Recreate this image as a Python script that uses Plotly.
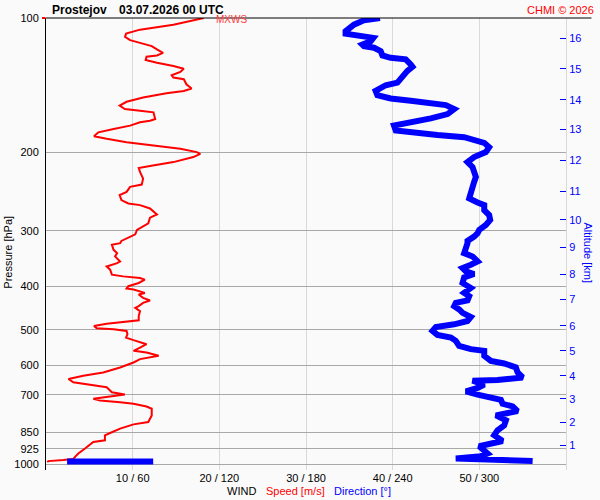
import math
import plotly.graph_objects as go

# wind speed profile (m/s) against pressure (hPa)
speed_p = [100, 103.5, 106.2, 108.4, 110.2, 112.1, 113.7, 115.6, 117.6, 119.7,
           121.3, 122.1, 124.2, 126.0, 128.1, 129.9, 132.1, 134.4, 136.0, 137.2,
           140.8, 143.9, 145.7, 147.4, 150.7, 154.1, 157.2, 160.0, 161.4, 162.7,
           168.4, 169.9, 171.3, 174.3, 177.3, 180.4, 184.1, 186.6, 189.8, 193.1,
           196.5, 199.8, 201.6, 205.0, 210.4, 214.7, 216.9, 221.4, 229.1, 236.3,
           239.1, 245.4, 249.5, 256.0, 260.5, 262.7, 267.3, 275.6, 280.3, 288.6,
           293.6, 298.6, 305.4, 311.7, 316.0, 319.8, 322.5, 330.9, 336.6, 342.4,
           351.3, 354.4, 357.3, 360.5, 366.6, 376.2, 379.5, 382.7, 386.0, 392.6,
           399.3, 404.1, 406.2, 409.7, 413.3, 416.7, 424.0, 429.8, 435.1, 442.5,
           446.3, 453.9, 465.7, 476.1, 479.5, 484.5, 490.3, 496.1, 498.7, 503.0,
           511.6, 520.6, 527.5, 534.1, 538.6, 547.9, 557.3, 562.2, 571.8, 581.6,
           591.8, 607.2, 623.0, 633.7, 644.5, 655.8, 663.5, 672.7, 690.2, 696.0,
           698.4, 714.0, 720.2, 726.4, 732.5, 742.7, 751.5, 777.9, 805.0, 814.6,
           832.8, 851.8, 861.9, 884.3, 891.9, 922.6, 934.1, 946.7, 963.2, 974.7,
           979.7, 984.7, 990.0]
speed_ms = [18.2, 14.7, 10.85, 9.24, 9.12, 9.7, 10.85, 12.2, 12.8, 13.5,
            12.8, 11.6, 11.5, 12.8, 14.7, 15.9, 15.5, 14.5, 14.7, 15.9,
            16.2, 16.8, 15.9, 13.9, 11.2, 9.3, 8.5, 9.1, 10.85, 12.4,
            12.6, 12.0, 10.85, 9.7, 7.8, 6.04, 5.54, 7.0, 9.3, 12.4,
            15.5, 17.4, 17.8, 17.0, 14.7, 12.0, 10.7, 10.85, 11.2, 11.05,
            9.7, 9.3, 8.5, 8.7, 9.5, 10.85, 12.0, 12.8, 12.0, 11.8,
            11.2, 10.5, 10.3, 9.3, 8.7, 8.55, 7.6, 7.8, 8.2, 7.97,
            8.55, 8.2, 7.6, 7.0, 7.4, 7.6, 8.9, 10.85, 11.4, 10.7,
            9.5, 9.3, 10.1, 10.85, 11.4, 10.7, 11.2, 12.0, 11.2, 10.7,
            10.3, 10.85, 10.7, 10.7, 9.3, 7.0, 5.54, 5.85, 7.8, 9.3,
            9.4, 9.24, 10.1, 10.85, 11.6, 10.85, 10.1, 11.6, 13.0, 10.85,
            10.1, 8.55, 6.6, 4.3, 2.6, 3.15, 5.1, 7.0, 7.6, 8.55,
            9.1, 5.46, 6.24, 8.55, 10.1, 11.6, 12.2, 12.2, 11.8, 10.1,
            8.55, 7.4, 6.8, 6.8, 5.46, 4.5, 4.1, 3.73, 3.35, 3.15,
            2.0, 0.27, 0.15]

# wind direction profile (deg); None splits the near-surface segment
dir_p = [100, 101.2, 103.5, 107.1, 108.4, 109.5, 110.2, 110.8, 112.7, 114.7,
         115.6, 116.6, 118.7, 121.3, 122.8, 123.8, 127.1, 128.6, 131.4, 136.0,
         139.6, 141.5, 145.7, 148.9, 151.5, 153.3, 155.2, 156.8, 160.0, 164.2,
         167.9, 171.3, 174.3, 178.8, 181.1, 182.9, 185.0, 187.3, 190.5, 194.8,
         199.8, 205.0, 210.4, 215.8, 221.4, 227.2, 233.1, 241.2, 253.9, 259.2,
         262.7, 269.6, 276.5, 283.6, 291.1, 298.6, 303.8, 309.0, 316.0, 319.8,
         325.3, 336.6, 342.4, 351.3, 357.3, 363.6, 369.8, 374.9, 381.4, 392.6,
         402.8, 413.3, 420.4, 429.8, 435.1, 442.5, 450.1, 458.0, 468.1, 477.8,
         486.0, 492.9, 503.0, 513.4, 520.6, 529.4, 543.2, 552.5, 557.3, 571.8,
         586.9, 595.0, 607.2, 623.0, 639.3, 648.0, 650.1, 663.5, 674.9, 686.8,
         698.5, 708.2, 717.7, 732.5, 742.7, 760.8, 773.7, 777.9, 798.0, 818.8,
         840.3, 861.9, 887.5, 899.4, 912.0, 946.7, 959.8, 971.2, 974.7, 979.7,
         984.7, None, 987.0, 987.0]
dir_deg = [231.2, 220.1, 213.2, 207.4, 207.4, 214.4, 222.5, 226.6, 224.8, 219.0,
           220.1, 227.1, 231.7, 232.9, 238.6, 249.0, 252.5, 253.7, 250.2, 246.7,
           243.3, 235.2, 228.2, 229.4, 238.6, 252.5, 266.4, 276.8, 282.6, 278.0,
           266.4, 252.5, 240.9, 242.1, 254.8, 271.0, 289.5, 296.4, 303.4, 306.8,
           304.5, 296.4, 291.8, 295.3, 296.4, 297.6, 296.4, 295.3, 293.0, 298.8,
           303.4, 303.4, 306.8, 307.5, 304.5, 299.9, 298.8, 296.4, 291.8, 291.8,
           290.7, 289.5, 295.3, 298.8, 294.1, 288.4, 290.7, 296.4, 289.5, 288.4,
           294.1, 289.5, 293.0, 291.8, 283.7, 282.6, 286.0, 288.4, 294.1, 291.8,
           282.6, 269.9, 267.6, 271.0, 280.3, 283.7, 286.0, 294.1, 303.4, 303.4,
           308.0, 317.2, 325.3, 326.5, 330.0, 312.6, 295.3, 303.4, 298.8, 290.7,
           298.8, 308.0, 314.9, 316.1, 323.1, 326.5, 317.2, 311.5, 318.4, 317.2,
           312.6, 310.3, 316.1, 308.0, 299.9, 305.7, 301.1, 283.7, 305.7, 326.5,
           336.9, None, 14.6, 74.2]

# pressure axis ticks
p_ticks = [100, 200, 300, 400, 500, 600, 700, 850, 925, 1000]
# speed / direction ticks
x_ticks = [10, 20, 30, 40, 50]
x_labels = ["10 / 60", "20 / 120", "30 / 180", "40 / 240", "50 / 300"]
# altitude scale (km) and the pressure level where each tick sits
alt_km = [1, 2, 3, 4, 5, 6, 7, 8, 9, 10, 11, 12, 13, 14, 15, 16]
alt_p = [907, 805, 714, 634, 557.5, 489.5, 427.6, 374.9, 326.9, 283.6,
         244.4, 208.5, 177.9, 152.5, 130.1, 111.2]

FONT = "Liberation Sans, Arial, sans-serif"
p_range = [math.log10(1031), 2]

fig = go.Figure()
fig.add_trace(go.Scatter(x=speed_ms, y=speed_p, mode="lines",
                         line=dict(color="#ff0000", width=2),
                         xaxis="x", yaxis="y", hoverinfo="skip"))
fig.add_trace(go.Scatter(x=dir_deg, y=dir_p, mode="lines",
                         line=dict(color="#0000ff", width=6),
                         connectgaps=False,
                         xaxis="x2", yaxis="y", hoverinfo="skip"))
# dummy trace so the right axis is drawn
fig.add_trace(go.Scatter(x=[None], y=[None], xaxis="x", yaxis="y2",
                         hoverinfo="skip"))

fig.update_layout(
    width=600, height=500,
    margin=dict(l=46, r=34, t=15, b=30),
    paper_bgcolor="#fafafa", plot_bgcolor="#fafafa",
    showlegend=False,
    font=dict(family=FONT, size=11, color="black"),
    xaxis=dict(range=[0, 60], tickvals=x_ticks, ticktext=x_labels,
               showgrid=True, gridcolor="#d9d9d9", gridwidth=1,
               zeroline=False, showline=False, ticks="",
               tickfont=dict(size=11, color="black")),
    xaxis2=dict(range=[0, 360], overlaying="x", visible=False),
    yaxis=dict(type="log", range=p_range, tickvals=p_ticks,
               ticktext=[str(v) for v in p_ticks],
               showgrid=True, gridcolor="#a8a8a8", gridwidth=1,
               zeroline=False, showline=True, linecolor="black", linewidth=1,
               ticks="outside", ticklen=4, tickcolor="rgba(0,0,0,0)",
               tickfont=dict(size=11, color="black")),
    yaxis2=dict(type="log", range=p_range, overlaying="y", side="right",
                tickvals=alt_p, ticktext=[str(v) for v in alt_km],
                showgrid=False, zeroline=False,
                showline=True, linecolor="#d9d9d9", linewidth=1,
                ticks="inside", ticklen=6, tickcolor="#0000ff", tickwidth=1,
                tickfont=dict(size=11, color="#0000ff")),
)

# top frame line, running past the plot on the right
fig.add_shape(type="line", xref="paper", yref="paper",
              x0=0, x1=1.049, y0=1, y1=1,
              line=dict(color="black", width=1))
# little red mark at the 100 hPa label
fig.add_shape(type="line", xref="paper", yref="paper",
              x0=-0.0077, x1=-0.001, y0=1, y1=1,
              line=dict(color="#ff0000", width=2))

anns = [
    dict(text="<b>Prostejov</b>", x=0.0077, y=1.0176, xanchor="left",
         font=dict(size=12, color="black")),
    dict(text="<b>03.07.2026 00 UTC</b>", x=0.1365, y=1.0176, xanchor="left",
         font=dict(size=12, color="black")),
    dict(text="MXWS", x=0.323, y=0.997, xanchor="left",
         font=dict(size=10, color="#ff4040")),
    dict(text="CHMI © 2026", x=1.0577, y=1.0187, xanchor="right",
         font=dict(size=11, color="#ff0000")),
    dict(text="WIND", x=0.3442, y=-0.0455, xanchor="left",
         font=dict(size=11, color="black")),
    dict(text="Speed [m/s]", x=0.4192, y=-0.0455, xanchor="left",
         font=dict(size=11, color="#ff0000")),
    dict(text="Direction [°]", x=0.55, y=-0.0455, xanchor="left",
         font=dict(size=11, color="#0000ff")),
    dict(text="Pressure [hPa]", x=-0.073, y=0.481, xanchor="center",
         textangle=-90, font=dict(size=11, color="black")),
    dict(text="Altitude [km]", x=1.0423, y=0.479, xanchor="center",
         textangle=90, font=dict(size=11, color="#0000ff")),
]
for a in anns:
    fig.add_annotation(xref="paper", yref="paper", showarrow=False,
                       yanchor="middle", **a)

# drop the default page margin so the 600x500 figure fills the window
fig.write_html("out.html", config={"displayModeBar": False},
               post_script="document.body.style.margin='0';"
                           "document.body.style.overflow='hidden';")
